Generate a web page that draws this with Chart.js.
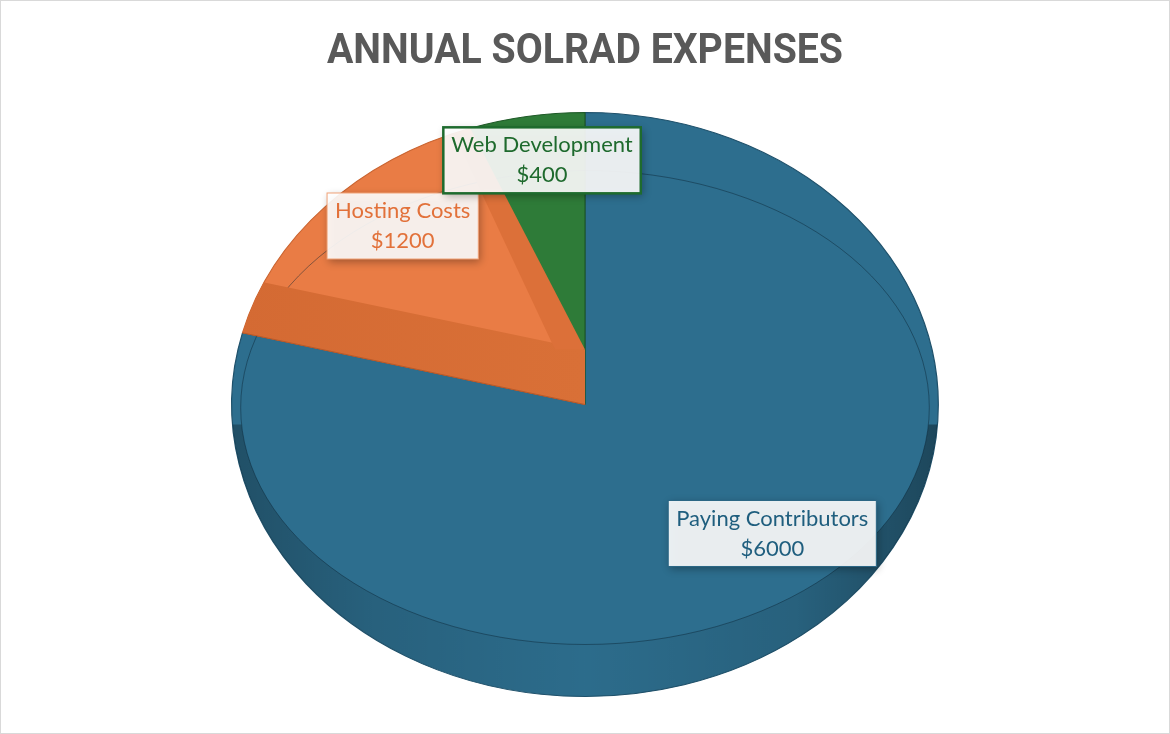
<!DOCTYPE html>
<html lang="en">
<head>
    <meta charset="UTF-8">
    <meta name="viewport" content="width=device-width, initial-scale=1.0">
    <title>Annual Solrad Expenses</title>
    <style>
        body {
            margin: 0;
            background: #fff;
        }
        .chart-box {
            width: 1170px;
            height: 734px;
            box-sizing: border-box;
            border: 1px solid #d9d9d9;
        }
    </style>
</head>
<body>
<div class="chart-box">
    <canvas id="expensesChart"></canvas>
</div>

<script src="https://cdn.jsdelivr.net/npm/chart.js"></script>
<script>
    // Expense data
    const categories = ['Paying Contributors', 'Hosting Costs', 'Web Development'];
    const expenses = [6000, 1200, 400];
    const chartTitle = 'ANNUAL SOLRAD EXPENSES';

    // Styles
    const sliceColors = ['#2d6e8e', '#e97c45', '#2e7b38'];
    const edgeColors = ['#1f516b', '#c9632f', '#1f5a28'];
    const textColors = ['#1f5e7e', '#e2713a', '#1e6a2d'];
    const boxBorders = ['#2a6685', '#f0a277', '#1e6b2e'];
    const boxBorderWidths = [1, 1, 2.5];
    const labelRadius = [0.69, 0.80, 0.845];
    const labelTurn = [-12.3, 7.2, 1.2];   // degrees
    const aspect = 1.21;   // tilted pie: width / height
    const bevel = 55;      // height of the rim band
    const titleWidth = 516; // narrow title look

    const labelFont = '22px Lato, "Noto Sans", sans-serif';

    // Squash the round pie into a tilted ellipse and add rim shading
    const tiltPie = {
        id: 'tiltPie',
        beforeDatasetsDraw(chart) {
            const arc = chart.getDatasetMeta(0).data[0];
            const ctx = chart.ctx;
            ctx.save();
            ctx.translate(arc.x, 0);
            ctx.scale(aspect, 1);
            ctx.translate(-arc.x, 0);
        },
        afterDatasetsDraw(chart) {
            const ctx = chart.ctx;
            ctx.restore();

            const arcs = chart.getDatasetMeta(0).data;
            const cx = arcs[0].x, cy = arcs[0].y, r = arcs[0].outerRadius;
            const rx = r * aspect, ry = r;
            const pt = (a, f, dy) => [cx + Math.cos(a) * rx * f, cy + Math.sin(a) * ry * f + (dy || 0)];

            ctx.save();
            ctx.beginPath();
            ctx.ellipse(cx, cy, rx, ry, 0, 0, Math.PI * 2);
            ctx.clip();

            // darker rim on the front
            ctx.save();
            ctx.beginPath();
            ctx.rect(cx - rx - 2, cy + 20, rx * 2 + 4, ry);
            ctx.clip();
            ctx.beginPath();
            ctx.ellipse(cx, cy, rx, ry, 0, 0, Math.PI * 2);
            ctx.moveTo(cx + rx - 9, cy + 3);
            ctx.ellipse(cx, cy + 3, rx - 9, ry - bevel, 0, 0, Math.PI * 2);
            const g = ctx.createLinearGradient(cx - rx, 0, cx + rx, 0);
            g.addColorStop(0, 'rgba(0,0,0,0.28)');
            g.addColorStop(0.2, 'rgba(0,0,0,0.12)');
            g.addColorStop(0.5, 'rgba(0,0,0,0.02)');
            g.addColorStop(0.8, 'rgba(0,0,0,0.12)');
            g.addColorStop(1, 'rgba(0,0,0,0.36)');
            ctx.fillStyle = g;
            ctx.fill('evenodd');
            ctx.restore();

            // bevel line
            ctx.beginPath();
            ctx.ellipse(cx, cy + 3, rx - 9, ry - bevel, 0, 0, Math.PI * 2);
            ctx.strokeStyle = 'rgba(10,35,50,0.45)';
            ctx.lineWidth = 1;
            ctx.stroke();

            // raised wall of the hosting slice
            const hosting = arcs[1];
            const a0 = hosting.startAngle, a1 = hosting.endAngle;
            ctx.beginPath();
            ctx.moveTo(cx, cy);
            ctx.lineTo(...pt(a0, 1.05, 0));
            ctx.lineTo(...pt(a0, 1.05, -bevel));
            ctx.lineTo(cx, cy - bevel);
            ctx.closePath();
            const bg = ctx.createLinearGradient(cx - rx, 0, cx, 0);
            bg.addColorStop(0, '#d46a33');
            bg.addColorStop(1, '#d97037');
            ctx.fillStyle = bg;
            ctx.fill();
            ctx.beginPath();
            ctx.moveTo(cx, cy);
            ctx.lineTo(...pt(a0, 1.05, 0));
            ctx.strokeStyle = '#b85a2a';
            ctx.stroke();

            // side strip next to web development
            ctx.beginPath();
            ctx.moveTo(cx, cy - bevel);
            ctx.lineTo(...pt(a1, 1, 0));
            ctx.lineTo(...pt(a1 - 0.05, 1, 0));
            ctx.lineTo(cx - 30, cy - bevel);
            ctx.closePath();
            ctx.fillStyle = '#dc7039';
            ctx.fill();

            ctx.restore();
        },
        afterDraw(chart) {
            const ctx = chart.ctx;
            const arcs = chart.getDatasetMeta(0).data;
            const cx = arcs[0].x, cy = arcs[0].y, r = arcs[0].outerRadius;
            const rx = r * aspect, ry = r;
            const lineH = 30;

            // title, narrowed
            ctx.save();
            ctx.font = 'bold 43px Roboto, "Noto Sans", sans-serif';
            ctx.fillStyle = '#595959';
            ctx.textAlign = 'center';
            ctx.textBaseline = 'alphabetic';
            const tw = ctx.measureText(chartTitle).width;
            ctx.translate(chart.width / 2, 62);
            ctx.scale(Math.min(1, titleWidth / tw), 1);
            ctx.fillText(chartTitle, 0, 0);
            ctx.restore();

            // data labels
            ctx.save();
            ctx.font = labelFont;
            arcs.forEach((arc, i) => {
                const mid = (arc.startAngle + arc.endAngle) / 2 + labelTurn[i] * Math.PI / 180;
                const x = cx + Math.cos(mid) * rx * labelRadius[i];
                const y = cy + Math.sin(mid) * ry * labelRadius[i];
                const lines = [categories[i], '$' + expenses[i]];
                const w = Math.max(...lines.map(t => ctx.measureText(t).width)) + 16;
                const h = lineH * 2 + 6;

                ctx.save();
                ctx.shadowColor = 'rgba(0,0,0,0.35)';
                ctx.shadowBlur = 8;
                ctx.shadowOffsetX = 2;
                ctx.shadowOffsetY = 3;
                ctx.fillStyle = 'rgba(255,255,255,0.9)';
                ctx.fillRect(x - w / 2, y - h / 2, w, h);
                ctx.restore();

                ctx.lineWidth = boxBorderWidths[i];
                ctx.strokeStyle = boxBorders[i];
                ctx.strokeRect(x - w / 2, y - h / 2, w, h);

                ctx.fillStyle = textColors[i];
                ctx.textAlign = 'center';
                ctx.textBaseline = 'middle';
                ctx.fillText(lines[0], x, y - lineH / 2);
                ctx.fillText(lines[1], x, y + lineH / 2);
            });
            ctx.restore();
        }
    };

    const ctx = document.getElementById('expensesChart').getContext('2d');
    const expensesChart = new Chart(ctx, {
        type: 'pie',
        data: {
            labels: categories,
            datasets: [{
                label: 'Expenses',
                data: expenses,
                backgroundColor: sliceColors,
                borderColor: edgeColors,
                borderWidth: 1,
                clip: false
            }]
        },
        options: {
            responsive: true,
            maintainAspectRatio: false,
            animation: false,
            layout: {
                padding: { top: 111, bottom: 36 }
            },
            plugins: {
                legend: { display: false },
                tooltip: { enabled: false },
                title: { display: false }
            }
        },
        plugins: [tiltPie]
    });
</script>
</body>
</html>
